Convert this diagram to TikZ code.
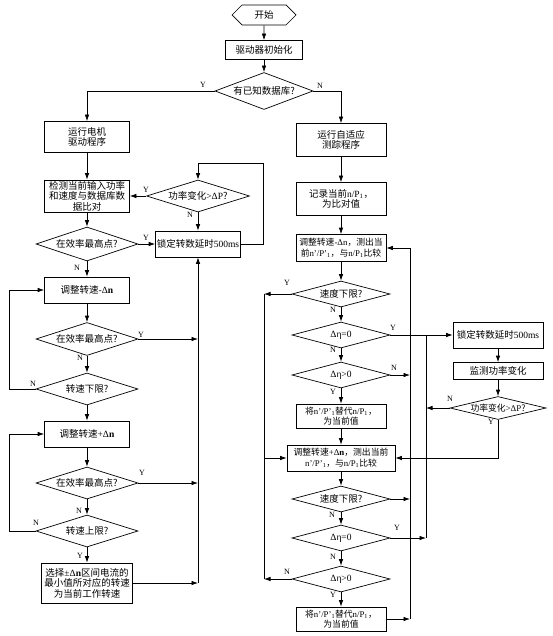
\documentclass[tikz,border=0pt]{standalone}
\usepackage{fontspec}
\setmainfont{Liberation Serif}
\newfontfamily\cjk{Noto Sans CJK SC}
\newcommand{\Lat}[1]{{\rmfamily #1}}
\usetikzlibrary{shapes.geometric,shapes.symbols,arrows.meta}
\begin{document}
\begin{tikzpicture}[x=1pt,y=-1pt,
  line width=0.7pt,
  >={Latex[length=6.5pt,width=4.5pt]},
  box/.style={draw, rectangle, inner sep=0pt, align=center, font=\cjk\fontsize{9.5}{10.5}\selectfont},
  sbox/.style={box, font=\cjk\fontsize{8.8}{10.5}\selectfont},
  dia/.style={draw, diamond, inner sep=0pt},
  dl/.style={font=\cjk\fontsize{9.5}{11}\selectfont, inner sep=0pt},
  sdl/.style={font=\cjk\fontsize{8.8}{10}\selectfont, inner sep=0pt},
  yn/.style={font=\fontsize{8}{9}\selectfont, inner sep=0pt}
]
\useasboundingbox (0,0) rectangle (553,636);

% top
\node[draw, signal, signal to=west and east, minimum width=64pt, minimum height=20pt, inner sep=0pt, font=\cjk\fontsize{9.5}{11}\selectfont] (start) at (264,15) {开始};
\node[box, minimum width=77pt, minimum height=19pt] (init) at (264,50) {驱动器初始化};
\node[dia, minimum width=98pt, minimum height=37pt, label={[dl]center:有已知数据库?}] (db) at (264,91) {};

% left column
\node[box, minimum width=85pt, minimum height=31pt] (run) at (87,137) {运行电机\\驱动程序};
\node[box, minimum width=85pt, minimum height=32pt] (detect) at (87,196) {检测当前输入功率\\和速度与数据库数\\据比对};
\node[dia, minimum width=102pt, minimum height=34pt, label={[dl]center:在效率最高点?}] (eff1) at (87,244) {};
\node[dia, minimum width=103pt, minimum height=32pt, label={[dl]center:功率变化\Lat{>ΔP}?}] (pc1) at (198,196) {};
\node[box, minimum width=85pt, minimum height=26pt] (lock1) at (198,244) {锁定转数延时\Lat{500ms}};
\node[box, minimum width=85pt, minimum height=26pt] (adj1) at (87,290) {调整转速\Lat{-Δ\textbf{n}}};
\node[dia, minimum width=102pt, minimum height=33pt, label={[dl]center:在效率最高点?}] (eff2) at (87,339) {};
\node[dia, minimum width=102pt, minimum height=32pt, label={[dl]center:转速下限?}] (low) at (87,389) {};
\node[box, minimum width=85pt, minimum height=26pt] (adj2) at (87,434) {调整转速\Lat{+Δ\textbf{n}}};
\node[dia, minimum width=102pt, minimum height=32pt, label={[dl]center:在效率最高点?}] (eff3) at (87,483) {};
\node[dia, minimum width=102pt, minimum height=32pt, label={[dl]center:转速上限?}] (up) at (87,531) {};
\node[box, minimum width=91pt, minimum height=40pt] (sel) at (87,583) {选择\Lat{±Δ\textbf{n}}区间电流的\\最小值所对应的转速\\为当前工作转速};

% right column
\node[box, minimum width=90pt, minimum height=33pt] (adapt) at (341,140) {运行自适应\\测踪程序};
\node[box, minimum width=90pt, minimum height=33pt] (rec) at (341,199) {记录当前\Lat{n/P\textsubscript{1}}，\\为比对值};
\node[sbox, minimum width=90pt, minimum height=27pt] (adjm) at (341,248) {调整转速\Lat{-Δn}，测出当\\前\Lat{n'/P'\textsubscript{1}}，与\Lat{n/P\textsubscript{1}}比较};
\node[dia, minimum width=98pt, minimum height=26pt, label={[dl]center:速度下限?}] (sl1) at (341,294) {};
\node[dia, minimum width=98pt, minimum height=26pt, label={[dl]center:\Lat{Δη=0}}] (eq1) at (341,335) {};
\node[dia, minimum width=98pt, minimum height=26pt, label={[dl]center:\Lat{Δη>0}}] (gt1) at (341,375) {};
\node[sbox, minimum width=90pt, minimum height=24pt] (rep1) at (341,416) {将\Lat{n'/P'\textsubscript{1}}替代\Lat{n/P\textsubscript{1}}，\\为当前值};
\node[sbox, minimum width=108pt, minimum height=26pt] (adjp) at (341,458) {调整转速\Lat{+Δ\textbf{n}}，测出当前\\\Lat{n'/P'\textsubscript{1}}，与\Lat{n/P\textsubscript{1}}比较};
\node[dia, minimum width=98pt, minimum height=26pt, label={[dl]center:速度下限?}] (sl2) at (341,499) {};
\node[dia, minimum width=98pt, minimum height=26pt, label={[dl]center:\Lat{Δη=0}}] (eq2) at (341,538) {};
\node[dia, minimum width=98pt, minimum height=26pt, label={[dl]center:\Lat{Δη>0}}] (gt2) at (341,579) {};
\node[sbox, minimum width=90pt, minimum height=24pt] (rep2) at (341,619) {将\Lat{n'/P'\textsubscript{1}}替代\Lat{n/P\textsubscript{1}}，\\为当前值};

% far right
\node[box, minimum width=90pt, minimum height=26pt] (lock2) at (498,335) {锁定转数延时\Lat{500ms}};
\node[box, minimum width=90pt, minimum height=17pt] (mon) at (498,371) {监测功率变化};
\node[dia, minimum width=96pt, minimum height=23pt, label={[sdl]center:功率变化\Lat{>ΔP}?}] (pc2) at (498,408) {};

% helper coordinates
\coordinate (bus) at (198,583);
\coordinate (lx) at (9,0);
\coordinate (lp1) at (263,163);
\coordinate (lbus) at (264,0);
\coordinate (rbus) at (410,0);
\coordinate (mbus) at (426,0);

% top connectors
\draw[->] (start) -- (init);
\draw[->] (init) -- (db);
\draw[->] (db.west) -| (run.north);
\draw[->] (db.east) -| (adapt.north);

% left connectors
\draw[->] (run) -- (detect);
\draw[->] (detect) -- (eff1);
\draw[->] (eff1) -- (lock1);
\draw[->] (eff1) -- (adj1);
\draw[->] (lock1.east) -| (lp1) -| (pc1.north);
\draw[->] (pc1.west) -- (detect.east);
\draw[->] (pc1) -- (lock1);
\draw[->] (adj1) -- (eff2);
\draw[->] (eff2) -- (low);
\draw[->] (low) -- (adj2);
\draw[->] (low.west) -- (low.west -| lx) |- (adj1.west);
\draw[->] (adj2) -- (eff3);
\draw[->] (eff3) -- (up);
\draw[->] (up) -- (sel);
\draw[->] (up.west) -- (up.west -| lx) |- (adj2.west);
\draw[->] (eff2.east) -- (eff2.east -| bus);
\draw[->] (eff3.east) -- (eff3.east -| bus);
\draw[->] (sel.east) -- (sel.east -| bus);
\draw[->] (bus) -- (lock1.south);

% right connectors
\draw[->] (adapt) -- (rec);
\draw[->] (rec) -- (adjm);
\draw[->] (adjm) -- (sl1);
\draw[->] (sl1) -- (eq1);
\draw[->] (eq1) -- (gt1);
\draw[->] (gt1) -- (rep1);
\draw[->] (rep1) -- (adjp);
\draw[->] (adjp) -- (sl2);
\draw[->] (sl2) -- (eq2);
\draw[->] (eq2) -- (gt2);
\draw[->] (gt2) -- (rep2);
\draw[->] (sl1.west) -- (sl1.west -| lbus);
\draw (sl1.west -| lbus) -- (gt2.west -| lbus);
\draw[->] (gt2.west) -- (gt2.west -| lbus);
\draw[->] (adjp.west -| lbus) -- (adjp.west);
\draw[->] (eq1.east) -- (lock2.west);
\draw[->] (gt1.east) -- (gt1.east -| rbus);
\draw[->] (sl2.east) -- (sl2.east -| rbus);
\draw[->] (rep2.east) -- (rep2.east -| rbus);
\draw[->] (rep2.east -| rbus) -- (adjm.east -| rbus) -- (adjm.east);
\draw[->] (eq2.east) -- (eq2.east -| mbus);
\draw (eq2.east -| mbus) -- (eq1.east -| mbus);
\draw[->] (pc2.west) -- (pc2.west -| mbus);
\draw[->] (lock2) -- (mon);
\draw[->] (mon) -- (pc2);
\draw[->] (pc2.south) |- (adjp.east);

% Y / N labels
\node[yn] (ydb) at (203,85) {Y};
\node[yn] (ndb) at (320,86) {N};
\node[yn] (ypc1) at (146,190) {Y};
\node[yn] (npc1) at (190,215) {N};
\node[yn] (yeff1) at (146,238) {Y};
\node[yn] (neff1) at (77,268) {N};
\node[yn] (yeff2) at (141,335) {Y};
\node[yn] (neff2) at (80,358) {N};
\node[yn] (nlow) at (33,384) {N};
\node[yn] (yeff3) at (142,473) {Y};
\node[yn] (neff3) at (79,511) {N};
\node[yn] (nup) at (36,523) {N};
\node[yn] (yup) at (80,556) {Y};
\node[yn] (ysl1) at (287,283) {Y};
\node[yn] (nsl1) at (333,310) {N};
\node[yn] (yeq1) at (393,328) {Y};
\node[yn] (neq1) at (333,350) {N};
\node[yn] (ngt1) at (394,368) {N};
\node[yn] (ygt1) at (333,392) {Y};
\node[yn] (npc2) at (450,399) {N};
\node[yn] (ypc2) at (491,422) {Y};
\node[yn] (nsl2) at (332,515) {N};
\node[yn] (yeq2) at (397,528) {Y};
\node[yn] (neq2) at (333,557) {N};
\node[yn] (ngt2) at (287,572) {N};
\node[yn] (ygt2) at (333,595) {Y};
\end{tikzpicture}
\end{document}
